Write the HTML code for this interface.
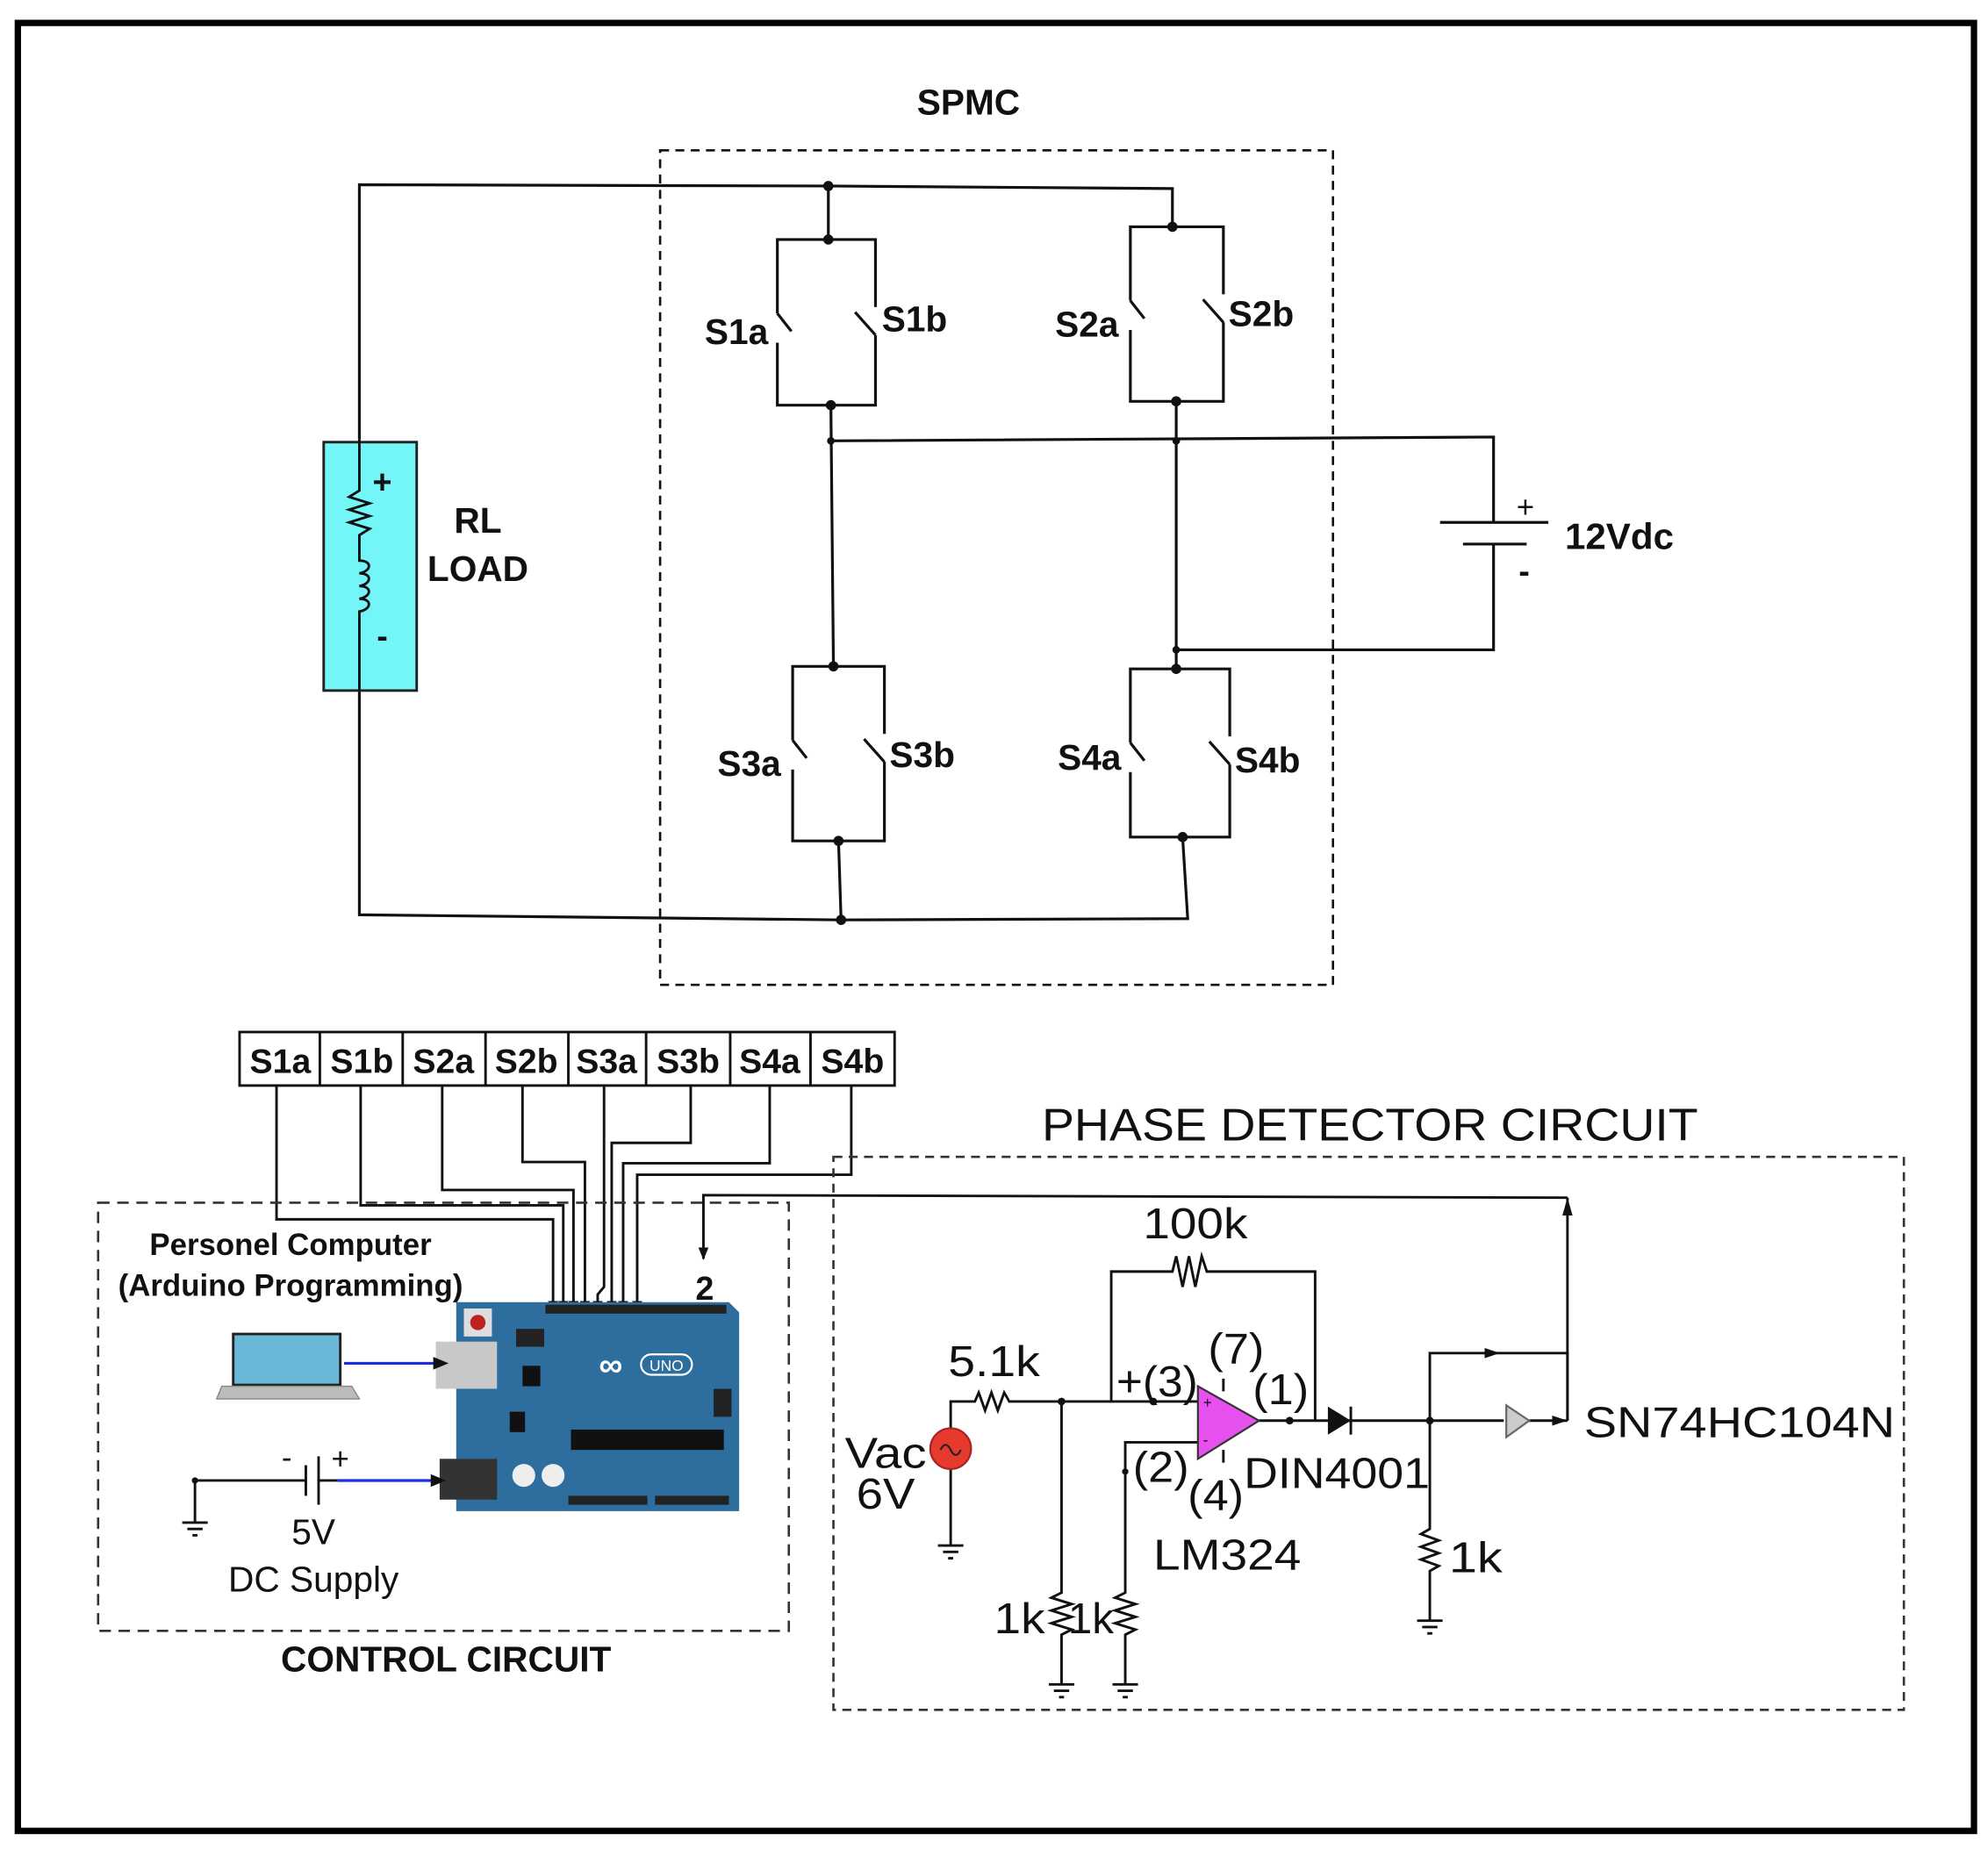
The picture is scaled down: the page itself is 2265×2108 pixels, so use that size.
<!DOCTYPE html>
<html><head><meta charset="utf-8"><style>
html,body{margin:0;padding:0;background:#fff;}
svg{display:block;}
text{font-family:"Liberation Sans",Arial,sans-serif;fill:#111;}
.b{font-weight:bold;}
</style></head><body>
<svg width="2265" height="2108" viewBox="0 0 1560 1452" preserveAspectRatio="none" xmlns="http://www.w3.org/2000/svg">
<defs>
<marker id="ar" markerWidth="10" markerHeight="10" refX="9" refY="5" orient="auto" markerUnits="userSpaceOnUse"><path d="M0,1 L10,5 L0,9 z" fill="#111"/></marker>
</defs>
<rect x="0" y="0" width="1560" height="1452" fill="#fff"/>
<rect x="14" y="18" width="1535" height="1419" fill="none" stroke="#000" stroke-width="5"/>

<g fill="none" stroke="#111" stroke-width="2.2">
<rect x="518" y="118" width="528" height="655" stroke-dasharray="7,5" stroke-width="1.8"/>
<polyline points="282,345 282,145 650,146 920,148 920,178"/>
<line x1="650" y1="146" x2="650" y2="188"/>
<polyline points="282,542 282,718 660,722 932,721 928,657"/>
<line x1="658" y1="660" x2="660" y2="722"/>
<path d="M610,246 V188 H687 V241 M610,246 L621,260 M610,269 V318 H687 V263 M671,245 L687,263"/>
<path d="M887,236 V178 H960 V231 M887,236 L898,250 M887,259 V315 H960 V253 M944,235 L960,253"/>
<path d="M622,581 V523 H694 V576 M622,581 L633,595 M622,604 V660 H694 V598 M678,580 L694,598"/>
<path d="M887,583 V525 H965 V578 M887,583 L898,597 M887,606 V657 H965 V600 M949,582 L965,600"/>
<line x1="652" y1="318" x2="654" y2="523"/>
<line x1="923" y1="315" x2="923" y2="525"/>
<polyline points="652,346 1172,343 1172,410"/>
<polyline points="923,510 1172,510 1172,427"/>
<line x1="1130" y1="410" x2="1215" y2="410"/>
<line x1="1148" y1="427" x2="1198" y2="427"/>
</g>
<g fill="#111">
<circle cx="650" cy="146" r="4"/><circle cx="650" cy="188" r="4"/><circle cx="920" cy="178" r="4"/>
<circle cx="652" cy="318" r="4"/><circle cx="923" cy="315" r="4"/><circle cx="652" cy="346" r="3"/><circle cx="923" cy="346" r="3"/>
<circle cx="654" cy="523" r="4"/><circle cx="923" cy="525" r="4"/><circle cx="923" cy="510" r="3"/>
<circle cx="658" cy="660" r="4"/><circle cx="928" cy="657" r="4"/><circle cx="660" cy="722" r="4"/>
</g>
<rect x="254" y="347" width="73" height="195" fill="#74f6f8" stroke="#222" stroke-width="2"/>
<path d="M282,345 V385 l-8,5 l16,5 l-16,5 l16,5 l-16,5 l16,5 l-8,5 V440 c10,0 10,8 0,10 c10,0 10,8 0,10 c10,0 10,8 0,10 c10,0 10,8 0,10 V542" fill="none" stroke="#111" stroke-width="2"/>
<text x="300" y="387" font-size="26" class="b" text-anchor="middle">+</text>
<text x="300" y="508" font-size="26" class="b" text-anchor="middle">-</text>
<text x="375" y="418" font-size="28" class="b" text-anchor="middle">RL</text>
<text x="375" y="456" font-size="28" class="b" text-anchor="middle">LOAD</text>
<text x="760" y="90" font-size="28" class="b" text-anchor="middle">SPMC</text>
<g font-size="28" class="b">
<text x="553" y="270" class="b">S1a</text><text x="692" y="260" class="b">S1b</text>
<text x="828" y="264" class="b">S2a</text><text x="964" y="256" class="b">S2b</text>
<text x="563" y="609" class="b">S3a</text><text x="698" y="602" class="b">S3b</text>
<text x="830" y="604" class="b">S4a</text><text x="969" y="606" class="b">S4b</text>
</g>
<text x="1197" y="406" font-size="24" text-anchor="middle">+</text>
<text x="1196" y="457" font-size="26" class="b" text-anchor="middle">-</text>
<text x="1228" y="431" font-size="29" class="b">12Vdc</text>

<rect x="188" y="810" width="514" height="42" fill="#fff" stroke="#111" stroke-width="2"/>
<g stroke="#111" stroke-width="2">
<line x1="251" y1="810" x2="251" y2="852"/><line x1="316" y1="810" x2="316" y2="852"/>
<line x1="381" y1="810" x2="381" y2="852"/><line x1="446" y1="810" x2="446" y2="852"/>
<line x1="507" y1="810" x2="507" y2="852"/><line x1="573" y1="810" x2="573" y2="852"/>
<line x1="636" y1="810" x2="636" y2="852"/>
</g>
<g font-size="27" class="b" text-anchor="middle">
<text x="220" y="842" class="b">S1a</text><text x="284" y="842" class="b">S1b</text>
<text x="348" y="842" class="b">S2a</text><text x="413" y="842" class="b">S2b</text>
<text x="476" y="842" class="b">S3a</text><text x="540" y="842" class="b">S3b</text>
<text x="604" y="842" class="b">S4a</text><text x="669" y="842" class="b">S4b</text>
</g>
<g fill="none" stroke="#111" stroke-width="2" marker-end="url(#ar)">
<polyline points="217,852 217,957 434,957 434,1030"/>
<polyline points="283,852 283,946 442,946 442,1030"/>
<polyline points="347,852 347,934 450,934 450,1030"/>
<polyline points="410,852 410,912 459,912 459,1030"/>
<polyline points="474,852 474,1010 469,1016 469,1030"/>
<polyline points="542,852 542,897 480,897 480,1030"/>
<polyline points="604,852 604,913 489,913 489,1030"/>
<polyline points="668,852 668,922 500,922 500,1030"/>
<polyline points="1230,940 552,938 552,988"/>
</g>
<text x="553" y="1020" font-size="26" class="b" text-anchor="middle">2</text>

<rect x="77" y="944" width="542" height="336" fill="none" stroke="#333" stroke-width="1.8" stroke-dasharray="9,6"/>
<text x="228" y="985" font-size="24" class="b" text-anchor="middle">Personel Computer</text>
<text x="228" y="1017" font-size="24" class="b" text-anchor="middle">(Arduino Programming)</text>
<text x="350" y="1312" font-size="28" class="b" text-anchor="middle">CONTROL CIRCUIT</text>
<g>
<path d="M358,1022 H572 L580,1030 V1186 H358 z" fill="#2d6e9e"/>
<rect x="342" y="1053" width="48" height="37" fill="#c8c8c8"/>
<rect x="345" y="1145" width="45" height="32" fill="#333"/>
<rect x="364" y="1027" width="22" height="22" fill="#ddd"/><circle cx="375" cy="1038" r="6" fill="#b22"/>
<rect x="428" y="1024" width="142" height="7" fill="#222"/>
<rect x="448" y="1122" width="120" height="16" fill="#111"/>
<rect x="410" y="1072" width="14" height="16" fill="#111"/>
<rect x="405" y="1043" width="22" height="14" fill="#222"/>
<rect x="560" y="1090" width="14" height="22" fill="#222"/>
<rect x="400" y="1108" width="12" height="16" fill="#111"/>
<circle cx="411" cy="1158" r="9" fill="#eee"/><circle cx="434" cy="1158" r="9" fill="#eee"/>
<rect x="446" y="1174" width="62" height="7" fill="#222"/><rect x="514" y="1174" width="58" height="7" fill="#222"/>
<text x="470" y="1080" font-size="26" style="fill:#fff" class="b">∞</text>
<rect x="503" y="1063" width="40" height="16" rx="8" fill="none" stroke="#fff" stroke-width="1.5"/>
<text x="523" y="1076" font-size="12" style="fill:#fff" text-anchor="middle">UNO</text>
</g>
<rect x="183" y="1047" width="84" height="40" fill="#69b8d8" stroke="#222" stroke-width="2"/>
<path d="M174,1088 H276 L282,1098 H170 z" fill="#bbb" stroke="#888" stroke-width="1"/>
<g stroke="#1a2ee8" stroke-width="2.2" fill="none">
<line x1="270" y1="1070" x2="342" y2="1070"/>
<line x1="265" y1="1162" x2="345" y2="1162"/>
</g>
<path d="M340,1065 L352,1070 L340,1075 z M338,1157 L350,1162 L338,1167 z" fill="#111"/>
<g stroke="#111" stroke-width="2" fill="none">
<polyline points="153,1195 153,1162 240,1162"/>
<line x1="240" y1="1150" x2="240" y2="1174"/>
<line x1="250" y1="1143" x2="250" y2="1181"/>
<line x1="250" y1="1162" x2="265" y2="1162"/>
<line x1="143" y1="1195" x2="163" y2="1195"/><line x1="147" y1="1200" x2="159" y2="1200"/><line x1="151" y1="1205" x2="155" y2="1205"/>
</g>
<circle cx="153" cy="1162" r="2.5" fill="#111"/>
<text x="225" y="1152" font-size="24" text-anchor="middle">-</text>
<text x="267" y="1153" font-size="24" text-anchor="middle">+</text>
<text x="246" y="1212" font-size="28" text-anchor="middle">5V</text>
<text x="246" y="1249" font-size="28" text-anchor="middle">DC Supply</text>

<rect x="654" y="908" width="840" height="434" fill="none" stroke="#333" stroke-width="1.8" stroke-dasharray="7,5"/>
<text x="1075" y="895" font-size="36" text-anchor="middle" textLength="515" lengthAdjust="spacingAndGlyphs">PHASE DETECTOR CIRCUIT</text>
<g fill="none" stroke="#111" stroke-width="2">
<path d="M1230,1115 V940"/>
<path d="M746,1121 V1100 H765 l3,-7 l5,14 l5,-14 l5,14 l5,-14 l4,7 H940"/>
<path d="M746,1153 V1213"/>
<path d="M736,1213 h20 M740,1218 h12 M744,1223 h4"/>
<path d="M872,1100 V998 H920 l3,-12 l5,24 l5,-24 l5,24 l5,-24 l4,12 H1032 V1115"/>
<path d="M940,1132 H883 V1250 l-8,4 l16,5 l-16,5 l16,5 l-16,5 l16,5 l-8,4 V1322"/>
<path d="M833,1100 V1250 l-8,4 l16,5 l-16,5 l16,5 l-16,5 l16,5 l-8,4 V1322"/>
<path d="M823,1322 h20 M827,1327 h12 M831,1332 h4"/>
<path d="M873,1322 h20 M877,1327 h12 M881,1332 h4"/>
<path d="M988,1115 H1180"/>
<path d="M1122,1115 V1062 H1230 V1115"/>
<path d="M1122,1115 V1200 l-7,4 l14,5 l-14,5 l14,5 l-14,5 l14,5 l-7,4 V1272"/>
<path d="M1112,1272 h20 M1116,1277 h12 M1120,1282 h4"/>
<path d="M1200,1115 H1230"/>
<path d="M960,1082 V1092 M960,1138 V1148"/>
</g>
<path d="M1230,940 l-4,14 h8 z" fill="#111"/>
<path d="M1165,1058 l12,4 l-12,4 z M1218,1111 l12,4 l-12,4 z" fill="#111"/>
<path d="M940,1088 L940,1145 L988,1115 z" fill="#e650ef" stroke="#333" stroke-width="1.5"/>
<text x="944" y="1105" font-size="12">+</text><text x="944" y="1134" font-size="12">-</text>
<path d="M1042,1104 L1060,1115 L1042,1126 z" fill="#111"/><line x1="1060" y1="1104" x2="1060" y2="1126" stroke="#111" stroke-width="2"/>
<path d="M1182,1103 L1182,1128 L1200,1115 z" fill="#ccc" stroke="#666" stroke-width="1.5"/>
<circle cx="746" cy="1137" r="16" fill="#e53a2d" stroke="#a22" stroke-width="1.5"/>
<path d="M738,1138 q4,-8 8,0 q4,8 8,0" fill="none" stroke="#222" stroke-width="1.5"/>
<g fill="#111"><circle cx="833" cy="1100" r="3"/><circle cx="905" cy="1100" r="3"/><circle cx="1012" cy="1115" r="3"/><circle cx="1122" cy="1115" r="3"/><circle cx="883" cy="1155" r="2.5"/></g>
<g font-size="34">
<text x="938" y="972" text-anchor="middle" textLength="82" lengthAdjust="spacingAndGlyphs">100k</text>
<text x="780" y="1080" text-anchor="middle" textLength="72" lengthAdjust="spacingAndGlyphs">5.1k</text>
<text x="876" y="1096" textLength="64" lengthAdjust="spacingAndGlyphs">+(3)</text>
<text x="948" y="1070" textLength="44" lengthAdjust="spacingAndGlyphs">(7)</text>
<text x="983" y="1102" textLength="44" lengthAdjust="spacingAndGlyphs">(1)</text>
<text x="889" y="1163" textLength="44" lengthAdjust="spacingAndGlyphs">(2)</text>
<text x="932" y="1185" textLength="44" lengthAdjust="spacingAndGlyphs">(4)</text>
<text x="976" y="1168" textLength="146" lengthAdjust="spacingAndGlyphs">DIN4001</text>
<text x="905" y="1232" textLength="116" lengthAdjust="spacingAndGlyphs">LM324</text>
<text x="663" y="1152" textLength="64" lengthAdjust="spacingAndGlyphs">Vac</text>
<text x="672" y="1184" textLength="46" lengthAdjust="spacingAndGlyphs">6V</text>
<text x="1243" y="1128" textLength="244" lengthAdjust="spacingAndGlyphs">SN74HC104N</text>
<text x="1137" y="1234" textLength="42" lengthAdjust="spacingAndGlyphs">1k</text>
<text x="780" y="1282" textLength="40" lengthAdjust="spacingAndGlyphs">1k</text>
<text x="838" y="1282" textLength="36" lengthAdjust="spacingAndGlyphs">1k</text>
</g>
</svg>
</body></html>
